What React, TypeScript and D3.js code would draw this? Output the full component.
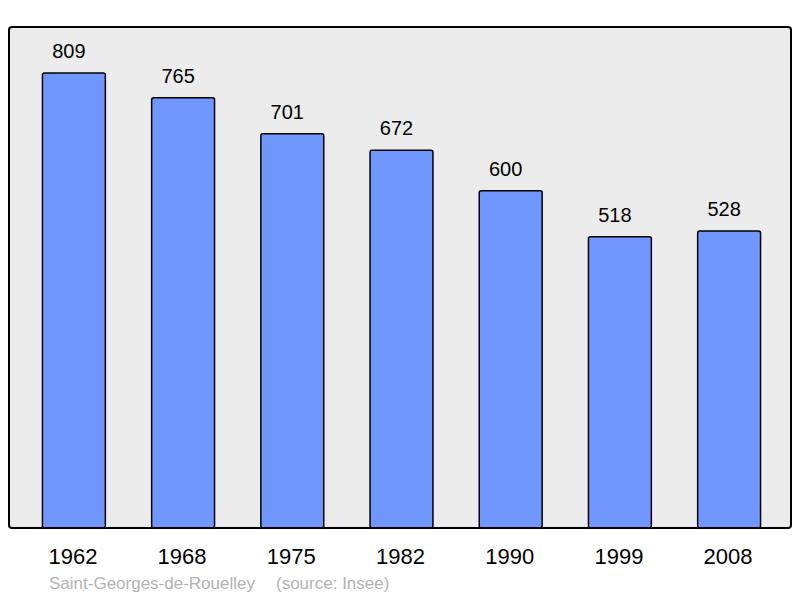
import React from 'react';
import * as d3 from 'd3';

const years = ['1962', '1968', '1975', '1982', '1990', '1999', '2008'];
const population = [809, 765, 701, 672, 600, 518, 528];
const commune = 'Saint-Georges-de-Rouelley';
const source = '(source: Insee)';

const W = 800;
const H = 598;
const panel = { left: 9, top: 27, right: 791, bottom: 528 };
const font = '"Liberation Sans", Arial, sans-serif';

export default function App() {
  const x = d3.scaleBand<string>()
    .domain(years)
    .range([panel.left + 2, panel.right + 1])
    .paddingInner(0.424)
    .paddingOuter(0.288);

  const y = d3.scaleLinear()
    .domain([0, 891])
    .range([panel.bottom, panel.top]);

  const data = years.map((year, i) => ({ year, value: population[i] }));

  return (
    <svg width={W} height={H} style={{ position: 'absolute', left: 0, top: 0, display: 'block' }}>
      <rect x={0} y={0} width={W} height={H} fill="#ffffff" />
      <rect
        x={panel.left}
        y={panel.top}
        width={panel.right - panel.left}
        height={panel.bottom - panel.top}
        fill="#ececec"
        stroke="none"
      />
      {/* bars */}
      {data.map(d => (
        <rect
          key={d.year}
          x={x(d.year)}
          y={y(d.value)}
          width={x.bandwidth()}
          height={y(0) - y(d.value)}
          rx={2}
          fill="#7097ff"
          stroke="#000"
          strokeWidth={1.5}
        />
      ))}
      {/* value labels, sitting a little left of the bar centre as in the original */}
      {data.map(d => (
        <text
          key={'v' + d.year}
          x={(x(d.year) ?? 0) + x.bandwidth() / 2 - 5}
          y={y(d.value) - 15}
          textAnchor="middle"
          fontFamily={font}
          fontSize={20}
          fill="#000"
        >
          {d.value}
        </text>
      ))}
      {/* frame on top so bars sit on the border */}
      <rect
        x={panel.left}
        y={panel.top}
        width={panel.right - panel.left}
        height={panel.bottom - panel.top}
        rx={3}
        fill="none"
        stroke="#000"
        strokeWidth={2}
      />
      {/* year labels */}
      {years.map(yr => (
        <text
          key={'x' + yr}
          x={(x(yr) ?? 0) + x.bandwidth() / 2 - 1}
          y={564}
          textAnchor="middle"
          fontFamily={font}
          fontSize={22}
          fill="#000"
        >
          {yr}
        </text>
      ))}
      <text x={49} y={589} fontFamily={font} fontSize={17} fill="#b3b3b3">
        {commune}
      </text>
      <text x={276} y={589} fontFamily={font} fontSize={17} fill="#b3b3b3">
        {source}
      </text>
    </svg>
  );
}
